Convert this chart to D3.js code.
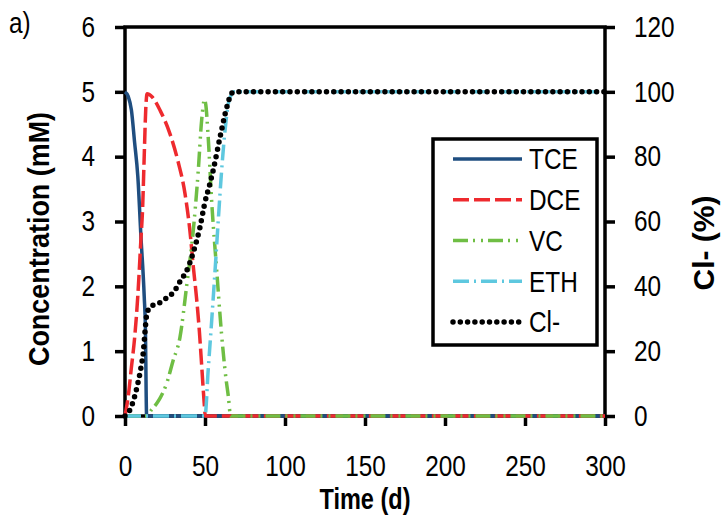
<!DOCTYPE html>
<html>
<head>
<meta charset="utf-8">
<script src="https://cdn.jsdelivr.net/npm/d3@7"></script>
<style>
  body { margin: 0; background: #fff; }
  text { font-family: "Liberation Sans Narrow", "Arial Narrow", "Liberation Sans", Arial, sans-serif; }
</style>
</head>
<body>
<div id="chart"></div>
<script>
/**
 * Data
 */
const seriesNames = ["TCE", "DCE", "VC", "ETH", "Cl-"]

const timeTCE = [0, 2, 4, 6, 8, 10, 12, 12.8, 13.2, 13.5, 300]
const concTCE = [5, 4.93, 4.72, 4.22, 3.7, 2.75, 1.85, 1.3, 0.4, 0, 0]

const timeDCE = [0, 2, 4, 6, 8, 10, 11, 12, 13, 13.8, 15, 17, 22, 28, 33, 37.5, 40.6, 42.7, 44.8, 46.5, 48, 49.5, 50.2, 300]
const concDCE = [0, 0.3, 0.75, 1.2, 1.85, 2.75, 3.2, 4.0, 4.75, 4.97, 4.96, 4.92, 4.71, 4.36, 3.94, 3.43, 2.85, 2.3, 1.8, 1.3, 0.75, 0.2, 0, 0]

const timeVC = [0, 13.5, 16.7, 20, 22, 26, 30, 34.4, 38.5, 42.7, 45.8, 47.9, 49.7, 50.5, 52, 54.2, 57.3, 60.4, 63, 64.6, 66, 300]
const concVC = [0, 0, 0.1, 0.2, 0.28, 0.5, 0.85, 1.22, 2.0, 2.87, 3.79, 4.56, 4.88, 4.8, 4.3, 3.3, 2.25, 1.25, 0.6, 0.3, 0, 0]

const timeETH = [0, 50, 52, 54.2, 56.3, 58.3, 60.4, 62.5, 64.6, 66.7, 68, 300]
const concETH = [0, 0, 0.71, 1.48, 2.25, 3.02, 3.79, 4.4, 4.82, 4.97, 5, 5]

const timeCl = [0, 3, 6, 8, 10, 11.5, 12.5, 13.5, 15.5, 18, 22, 26, 30, 32, 35, 38.5, 42.7, 46.9, 50, 53, 55.2, 59.4, 63.5, 66.7, 68, 300]
const pctCl = [0, 1.8, 6, 10, 15, 20, 26, 31, 33.5, 34.3, 35, 36.4, 38, 39.4, 42, 44.8, 50.5, 58.3, 66, 71.5, 76, 86, 95, 99.6, 100, 100]

const xTicks = [0, 50, 100, 150, 200, 250, 300]
const yTicks = [0, 1, 2, 3, 4, 5, 6]
const y2Ticks = [0, 20, 40, 60, 80, 100, 120]

/**
 * Graph Sizes
 */
const width = 723, height = 526
const plot = { left: 125, right: 605, top: 27, bottom: 416 }

const svg = d3.select("#chart")
    .append("svg")
        .attr("width", width)
        .attr("height", height)

const x = d3.scaleLinear().domain([0, 300]).range([plot.left, plot.right])
const y = d3.scaleLinear().domain([0, 6]).range([plot.bottom, plot.top])
const y2 = d3.scaleLinear().domain([0, 120]).range([plot.bottom, plot.top])

const fontSize = 29
const narrow = 0.84   // squeeze text, the original uses a condensed face

// styles for each series
const styles = {
    "TCE": { color: "#1f4e80", dash: null, width: 3.5 },
    "DCE": { color: "#ee2a2e", dash: "16,5", width: 3.5 },
    "VC": { color: "#6fbe44", dash: "15,5,2,6,2,5", width: 3.5 },
    "ETH": { color: "#5ec8df", dash: "16,5,2,5", width: 3.5 },
    "Cl-": { color: "#000000", dash: "0,7.3", width: 5.5 }
}

/**
 * Axes and frame (drawn first, the lines sit on top)
 */
function styleAxis(g) {
    g.select(".domain").remove()
    g.selectAll("line").attr("stroke", "#000").attr("stroke-width", 3.5)
    g.selectAll("text").attr("font-size", fontSize).attr("fill", "#000")
}

svg.append("g")
    .attr("transform", "translate(0," + plot.bottom + ")")
    .call(d3.axisBottom(x).tickValues(xTicks).tickFormat(d3.format("d")).tickSize(10).tickPadding(29))
    .call(styleAxis)

svg.append("g")
    .attr("transform", "translate(" + plot.left + ",0)")
    .call(d3.axisLeft(y).tickValues(yTicks).tickFormat(d3.format("d")).tickSize(10).tickPadding(20))
    .call(styleAxis)

svg.append("g")
    .attr("transform", "translate(" + plot.right + ",0)")
    .call(d3.axisRight(y2).tickValues(y2Ticks).tickFormat(d3.format("d")).tickSize(10).tickPadding(19))
    .call(styleAxis)

svg.append("rect")
    .attr("x", plot.left)
    .attr("y", plot.top)
    .attr("width", plot.right - plot.left)
    .attr("height", plot.bottom - plot.top)
    .attr("fill", "none")
    .attr("stroke", "#000")
    .attr("stroke-width", 3.5)

/**
 * Lines
 */
const series = [
    { name: "TCE", pts: timeTCE.map((t, i) => [x(t), y(concTCE[i])]) },
    { name: "DCE", pts: timeDCE.map((t, i) => [x(t), y(concDCE[i])]) },
    { name: "VC", pts: timeVC.map((t, i) => [x(t), y(concVC[i])]) },
    { name: "ETH", pts: timeETH.map((t, i) => [x(t), y(concETH[i])]) },
    { name: "Cl-", pts: timeCl.map((t, i) => [x(t), y2(pctCl[i])]) }
]

const line = d3.line().curve(d3.curveMonotoneX)

svg.append("g")
    .selectAll("path")
    .data(series)
    .enter()
    .append("path")
        .attr("d", d => line(d.pts))
        .attr("fill", "none")
        .attr("stroke", d => styles[d.name].color)
        .attr("stroke-width", d => styles[d.name].width)
        .attr("stroke-dasharray", d => styles[d.name].dash)
        .attr("stroke-linecap", d => d.name === "Cl-" ? "round" : "butt")

// axis titles (fixed lengths measured on the original)
svg.append("text")
    .attr("class", "title")
    .attr("text-anchor", "middle")
    .attr("x", (plot.left + plot.right) / 2)
    .attr("y", 509)
    .attr("font-size", fontSize)
    .attr("font-weight", "bold")
    .attr("textLength", 91)
    .attr("lengthAdjust", "spacingAndGlyphs")
    .text("Time (d)")

svg.append("text")
    .attr("class", "title")
    .attr("text-anchor", "middle")
    .attr("transform", "translate(49,239) rotate(-90)")
    .attr("font-size", fontSize)
    .attr("font-weight", "bold")
    .attr("textLength", 254)
    .attr("lengthAdjust", "spacingAndGlyphs")
    .text("Concentration (mM)")

svg.append("text")
    .attr("class", "title")
    .attr("text-anchor", "middle")
    .attr("transform", "translate(714,243) rotate(-90)")
    .attr("font-size", 30)
    .attr("font-weight", "bold")
    .text("Cl- (%)")

svg.append("text")
    .attr("x", 9)
    .attr("y", 33)
    .attr("font-size", fontSize)
    .text("a)")

/**
 * Legend
 */
const legend = svg.append("g")
legend.append("rect")
    .attr("x", 433).attr("y", 139)
    .attr("width", 164).attr("height", 206)
    .attr("fill", "#fff")
    .attr("stroke", "#000")
    .attr("stroke-width", 3.5)

const rowY = d3.scalePoint().domain(seriesNames).range([159, 322])

seriesNames.forEach(name => {
    const s = styles[name]
    legend.append("line")
        .attr("x1", 453).attr("x2", 522)
        .attr("y1", rowY(name)).attr("y2", rowY(name))
        .attr("stroke", s.color)
        .attr("stroke-width", s.width)
        .attr("stroke-dasharray", s.dash)
        .attr("stroke-linecap", name === "Cl-" ? "round" : "butt")
    legend.append("text")
        .attr("x", 529)
        .attr("y", rowY(name))
        .attr("dy", "0.36em")
        .attr("font-size", fontSize)
        .text(name)
})

// condense the other labels to mimic the narrow face
svg.selectAll("text:not(.title)").each(function() {
    const len = this.getComputedTextLength()
    d3.select(this)
        .attr("textLength", len * narrow)
        .attr("lengthAdjust", "spacingAndGlyphs")
})
</script>
</body>
</html>
